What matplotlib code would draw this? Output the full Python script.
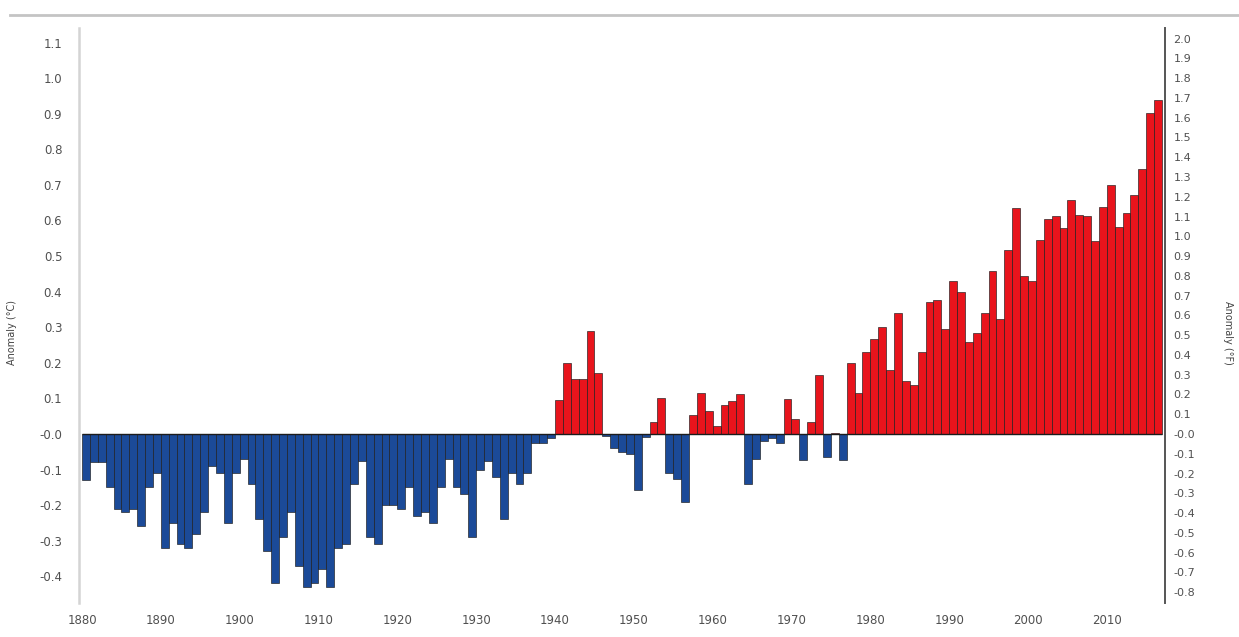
import numpy as np
import matplotlib
matplotlib.use("Agg")
import matplotlib.pyplot as plt
from matplotlib.lines import Line2D

# annual global temperature anomaly, deg C (1880-2016)
years = list(range(1880, 2017))
anomaly_c = [
    -0.13, -0.08, -0.08, -0.15, -0.21, -0.22, -0.21, -0.26, -0.15, -0.11,    # 1880s
    -0.32, -0.25, -0.31, -0.32, -0.28, -0.22, -0.09, -0.11, -0.25, -0.11,    # 1890s
    -0.07, -0.14, -0.24, -0.33, -0.42, -0.29, -0.22, -0.37, -0.43, -0.42,    # 1900s
    -0.38, -0.43, -0.32, -0.31, -0.14, -0.075, -0.29, -0.31, -0.20, -0.20,   # 1910s
    -0.21, -0.15, -0.23, -0.22, -0.25, -0.15, -0.07, -0.15, -0.17, -0.29,    # 1920s
    -0.10, -0.075, -0.12, -0.24, -0.11, -0.14, -0.11, -0.025, -0.025, -0.012,  # 1930s
    0.096, 0.20, 0.155, 0.155, 0.29, 0.17, -0.005, -0.04, -0.05, -0.055,     # 1940s
    -0.157, -0.008, 0.033, 0.10, -0.11, -0.127, -0.19, 0.054, 0.115, 0.064,  # 1950s
    0.023, 0.082, 0.094, 0.113, -0.14, -0.07, -0.019, -0.012, -0.025, 0.099, # 1960s
    0.042, -0.072, 0.033, 0.167, -0.066, 0.004, -0.072, 0.20, 0.115, 0.23,   # 1970s
    0.266, 0.30, 0.18, 0.34, 0.15, 0.138, 0.23, 0.37, 0.376, 0.296,          # 1980s
    0.43, 0.40, 0.258, 0.285, 0.34, 0.457, 0.324, 0.518, 0.634, 0.443,       # 1990s
    0.429, 0.546, 0.603, 0.612, 0.579, 0.657, 0.615, 0.612, 0.543, 0.637,    # 2000s
    0.70, 0.582, 0.622, 0.671, 0.744, 0.901, 0.939,                          # 2010s
]

year_ticks = list(range(1880, 2011, 10))
c_ticks = [1.1, 1.0, 0.9, 0.8, 0.7, 0.6, 0.5, 0.4, 0.3, 0.2, 0.1, 0.0, -0.1, -0.2, -0.3, -0.4]
c_labels = ["1.1", "1.0", "0.9", "0.8", "0.7", "0.6", "0.5", "0.4", "0.3", "0.2", "0.1",
            "-0.0", "-0.1", "-0.2", "-0.3", "-0.4"]
f_ticks = [round(2.0 - 0.1 * i, 1) for i in range(29)]
f_labels = ["-0.0" if t == 0 else f"{t:.1f}" for t in f_ticks]

RED = "#e8141c"
BLUE = "#1b4a98"
TXT = "#505050"

fig = plt.figure(figsize=(12.39, 6.37), dpi=100)
W, H = 1239, 637
ax = fig.add_axes([79 / W, (H - 603) / H, (1165 - 79) / W, (603 - 28) / H])

colors = [RED if v > 0 else BLUE for v in anomaly_c]
ax.bar(years, anomaly_c, width=1.0, align="edge", color=colors,
       edgecolor="#1c1c1c", linewidth=0.45)
ax.hlines(0, years[0], years[-1] + 1, color="#1c1c1c", linewidth=1.0, zorder=3)

ylo, yhi = -0.475, 1.141
ax.set_xlim(1879.62, 2017.38)
ax.set_ylim(ylo, yhi)

ax.set_xticks(year_ticks)
ax.set_xticklabels([str(y) for y in year_ticks])
ax.set_yticks(c_ticks)
ax.set_yticklabels(c_labels)
ax.tick_params(axis="both", length=0, labelsize=8.5, labelcolor=TXT)
ax.tick_params(axis="y", pad=12)
ax.tick_params(axis="x", pad=8)

for s in ["top", "bottom", "right"]:
    ax.spines[s].set_visible(False)
ax.spines["left"].set_color("#d4d4d4")
ax.spines["left"].set_linewidth(1.8)

ax.set_ylabel("Anomaly (°C)", fontsize=7, color="#444444")
ax.yaxis.set_label_coords(-0.057, 0.47)

# fahrenheit scale on the right
ax2 = ax.twinx()
ax2.set_ylim(ylo * 1.8, yhi * 1.8)
ax2.set_yticks(f_ticks)
ax2.set_yticklabels(f_labels)
ax2.tick_params(axis="y", length=0, labelsize=8, labelcolor=TXT, pad=6)
for s in ["top", "bottom", "left"]:
    ax2.spines[s].set_visible(False)
ax2.spines["right"].set_color("#555555")
ax2.spines["right"].set_linewidth(1.4)
ax2.set_ylabel("Anomaly (°F)", fontsize=7, color="#444444", rotation=270)
ax2.yaxis.set_label_coords(1.063, 0.47)

# frame line across the top
fig.add_artist(Line2D([10 / W, 1.0], [1 - 15 / H, 1 - 15 / H],
                      color="#c4c4c4", linewidth=2.0))

fig.savefig("out.png", dpi=100, facecolor="white")
